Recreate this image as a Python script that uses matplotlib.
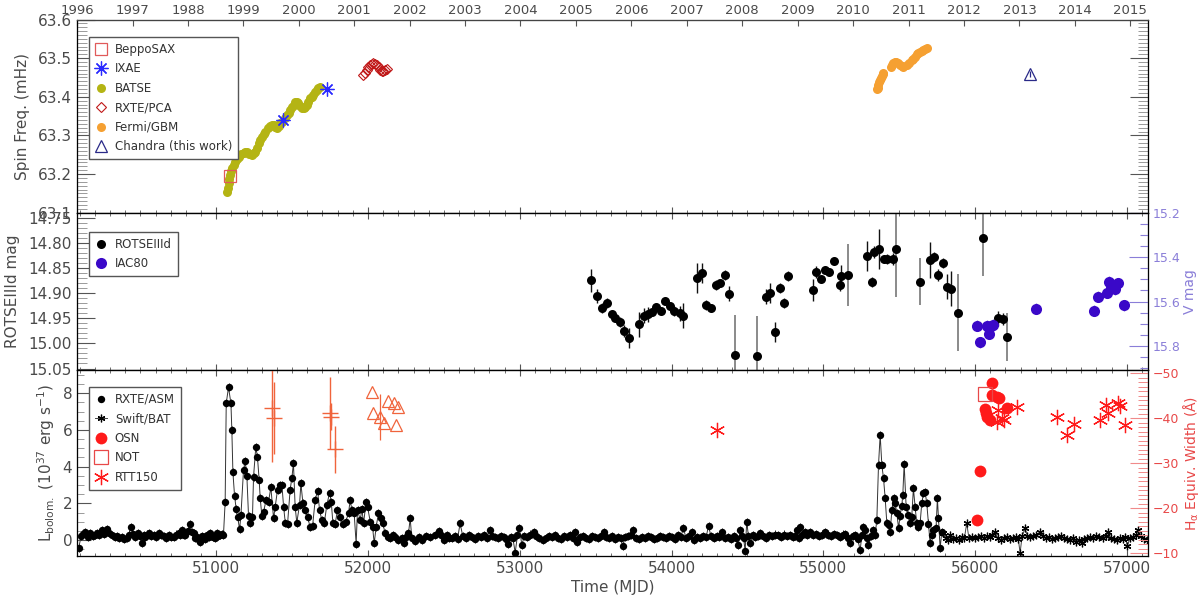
import numpy as np
import matplotlib
matplotlib.use('Agg')
import matplotlib.pyplot as plt
from matplotlib.ticker import MultipleLocator, FormatStrFormatter

plt.rcParams['font.family'] = ['DejaVu Sans']
plt.rcParams['mathtext.default'] = 'regular'

# ---------------- data ----------------
# x range (MJD) and top year axis
x_range = (50083, 57140)
year_mjd = [50083, 50449, 50814, 51179, 51544, 51910, 52275, 52640, 53005, 53371,
            53736, 54101, 54466, 54832, 55197, 55562, 55927, 56293, 56658, 57023]
year_lbl = ['1996', '1997', '1988', '1999', '2000', '2001', '2002', '2003', '2004', '2005',
            '2006', '2007', '2008', '2009', '2010', '2011', '2012', '2013', '2014', '2015']

# spin frequency (mHz)
batse_t = [51070, 51076, 51081, 51087, 51092, 51098, 51103, 51114, 51125, 51136, 51147, 51163,
           51180, 51191, 51202, 51218, 51235, 51246, 51257, 51268, 51279, 51290, 51301, 51312,
           51323, 51340, 51356, 51367, 51378, 51389, 51400, 51411, 51422, 51433, 51455, 51466,
           51477, 51488, 51499, 51510, 51520, 51531, 51542, 51553, 51565, 51576, 51587, 51598,
           51608, 51619, 51630, 51641, 51652, 51663, 51672, 51681]
batse_f = [63.154, 63.165, 63.176, 63.187, 63.198, 63.207, 63.215, 63.224, 63.232, 63.239, 63.245, 63.251,
           63.255, 63.257, 63.258, 63.253, 63.249, 63.254, 63.258, 63.268, 63.280, 63.289, 63.297, 63.304,
           63.310, 63.318, 63.324, 63.326, 63.327, 63.323, 63.318, 63.325, 63.331, 63.336, 63.345, 63.352,
           63.359, 63.366, 63.373, 63.380, 63.387, 63.386, 63.383, 63.377, 63.370, 63.372, 63.374, 63.380,
           63.387, 63.396, 63.400, 63.405, 63.412, 63.418, 63.422, 63.426]
sax_t = [51092]
sax_f = [63.195]
ixae_t = [51443, 51729]
ixae_f = [63.340, 63.420]
pca_t = [51970, 51981, 51992, 52003, 52015, 52025, 52036, 52047, 52059, 52070, 52080, 52091,
         52102, 52113, 52125]
pca_f = [63.456, 63.462, 63.469, 63.476, 63.482, 63.486, 63.488, 63.486, 63.482, 63.476, 63.469, 63.467,
         63.468, 63.470, 63.471]
gbm_t = [55353, 55358, 55363, 55368, 55374, 55380, 55385, 55391, 55396, 55445, 55453, 55462, 55471,
         55480, 55493, 55506, 55517, 55528, 55550, 55566, 55583, 55594, 55605, 55616, 55627, 55638,
         55649, 55660, 55671, 55682]
gbm_f = [63.419, 63.424, 63.430, 63.437, 63.443, 63.449, 63.454, 63.458, 63.461, 63.478, 63.483, 63.488, 63.490,
         63.491, 63.487, 63.482, 63.480, 63.478, 63.482, 63.488, 63.495, 63.499, 63.504, 63.510, 63.514, 63.517,
         63.519, 63.521, 63.523, 63.525]
chandra_t = [56363]
chandra_f = [63.459]
chandra_err = [0.008]

# optical magnitudes
rotse_t = [53468, 53508, 53541, 53574, 53607, 53629, 53662, 53684, 53717, 53789, 53816, 53842,
           53871, 53900, 53931, 53959, 53988, 54019, 54053, 54076, 54171, 54200, 54226, 54261,
           54292, 54321, 54354, 54382, 54420, 54563, 54625, 54651, 54679, 54712, 54743, 54767,
           54931, 54953, 54984, 55012, 55041, 55074, 55107, 55116, 55162, 55291, 55318, 55335,
           55370, 55401, 55423, 55459, 55480, 55638, 55704, 55730, 55759, 55792, 55818, 55840,
           55890, 56051, 56154, 56183, 56209]
rotse_m = [14.874, 14.905, 14.929, 14.919, 14.942, 14.949, 14.957, 14.976, 14.989, 14.962, 14.945, 14.942,
           14.937, 14.928, 14.936, 14.915, 14.926, 14.935, 14.940, 14.945, 14.870, 14.859, 14.924, 14.929,
           14.884, 14.879, 14.864, 14.901, 15.023, 15.025, 14.907, 14.899, 14.977, 14.889, 14.919, 14.866,
           14.894, 14.858, 14.872, 14.853, 14.858, 14.836, 14.883, 14.866, 14.864, 14.826, 14.877, 14.818,
           14.812, 14.831, 14.831, 14.831, 14.812, 14.877, 14.834, 14.828, 14.864, 14.840, 14.887, 14.891,
           14.939, 14.789, 14.950, 14.952, 14.987]
rotse_e = [0.023, 0.014, 0.010, 0.010, 0.006, 0.006, 0.010, 0.012, 0.020, 0.025, 0.015, 0.015,
           0.008, 0.008, 0.006, 0.006, 0.008, 0.010, 0.015, 0.025, 0.030, 0.020, 0.010, 0.008,
           0.010, 0.008, 0.010, 0.015, 0.080, 0.080, 0.015, 0.020, 0.020, 0.010, 0.010, 0.010,
           0.022, 0.012, 0.006, 0.006, 0.006, 0.006, 0.012, 0.022, 0.062, 0.030, 0.010, 0.012,
           0.040, 0.006, 0.010, 0.012, 0.095, 0.047, 0.036, 0.010, 0.012, 0.010, 0.025, 0.035,
           0.077, 0.077, 0.015, 0.012, 0.048]
iac_t = [56016, 56034, 56082, 56089, 56104, 56118, 56403, 56785, 56813, 56869, 56886, 56897, 56923, 56945, 56982]
iac_v = [15.710, 15.785, 15.710, 15.746, 15.713, 15.705, 15.632, 15.641, 15.578, 15.560, 15.510, 15.540,
         15.544, 15.517, 15.616]
iac_e = [0.025] * len(iac_t)

# RXTE/ASM bolometric luminosity (1e37 erg/s)
asm_t = [50093, 50110, 50125, 50137, 50152, 50170, 50185, 50200, 50214, 50230, 50247, 50263, 50280, 50296,
         50313, 50330, 50346, 50362, 50379, 50395, 50412, 50425, 50440, 50453, 50466, 50482, 50497, 50510,
         50522, 50532, 50545, 50554, 50570, 50587, 50603, 50620, 50636, 50653, 50670, 50686, 50703, 50719,
         50735, 50752, 50763, 50774, 50785, 50796, 50812, 50829, 50840, 50851, 50862, 50873, 50884, 50895,
         50906, 50917, 50928, 50939, 50950, 50960, 50971, 50982, 50993, 51004, 51015, 51026, 51037, 51048,
         51059, 51066, 51081, 51097, 51103, 51110, 51121, 51132, 51141, 51154, 51163, 51180, 51191, 51202,
         51213, 51224, 51239, 51246, 51261, 51272, 51283, 51290, 51301, 51312, 51329, 51345, 51360, 51378,
         51389, 51404, 51422, 51433, 51444, 51455, 51470, 51487, 51498, 51509, 51520, 51531, 51549, 51558,
         51571, 51586, 51602, 51619, 51635, 51652, 51668, 51681, 51696, 51712, 51729, 51747, 51758, 51769,
         51784, 51799, 51817, 51834, 51854, 51872, 51883, 51894, 51909, 51922, 51931, 51949, 51960, 51971,
         51988, 51997, 52015, 52030, 52041, 52054, 52069, 52085, 52098, 52113, 52129, 52146, 52164, 52179,
         52201, 52223, 52239, 52252, 52267, 52278, 52289, 52311, 52333, 52355, 52383, 52410, 52443, 52471,
         52480, 52498, 52520, 52537, 52555, 52575, 52590, 52607, 52625, 52645, 52665, 52685, 52705, 52725,
         52745, 52765, 52785, 52801, 52818, 52835, 52855, 52875, 52895, 52910, 52921, 52940, 52955, 52970,
         52985, 52998, 53014, 53030, 53050, 53070, 53091, 53110, 53130, 53150, 53170, 53190, 53210, 53230,
         53250, 53270, 53290, 53310, 53330, 53350, 53365, 53376, 53395, 53415, 53435, 53455, 53475, 53495,
         53515, 53535, 53552, 53570, 53590, 53610, 53630, 53650, 53665, 53679, 53695, 53715, 53732, 53749,
         53765, 53785, 53805, 53825, 53845, 53865, 53885, 53905, 53925, 53945, 53965, 53985, 54005, 54025,
         54045, 54062, 54079, 54095, 54115, 54134, 54150, 54170, 54190, 54210, 54228, 54244, 54260, 54280,
         54300, 54315, 54331, 54350, 54370, 54390, 54410, 54425, 54441, 54452, 54465, 54475, 54485, 54496,
         54507, 54518, 54535, 54550, 54567, 54584, 54600, 54620, 54640, 54660, 54680, 54700, 54720, 54740,
         54760, 54780, 54800, 54815, 54826, 54837, 54848, 54862, 54878, 54895, 54913, 54930, 54950, 54970,
         54990, 55012, 55030, 55050, 55070, 55090, 55110, 55128, 55144, 55160, 55177, 55193, 55210, 55227,
         55243, 55255, 55265, 55276, 55287, 55298, 55315, 55331, 55342, 55353, 55364, 55375, 55386, 55397,
         55408, 55419, 55430, 55441, 55452, 55463, 55474, 55485, 55496, 55506, 55517, 55524, 55533, 55546,
         55561, 55572, 55583, 55594, 55605, 55616, 55627, 55638, 55649, 55660, 55671, 55682, 55693, 55704,
         55715, 55726, 55743, 55752, 55759, 55770, 55781]
asm_l = [-0.45, 0.20, 0.35, 0.45, 0.15, 0.36, 0.20, 0.30, 0.40, 0.25, 0.55, 0.35, 0.58, 0.40,
         0.27, 0.15, 0.22, 0.10, 0.18, 0.05, 0.09, 0.30, 0.73, 0.35, 0.18, 0.40, 0.20, -0.15,
         0.25, 0.18, 0.30, 0.36, 0.20, 0.27, 0.15, 0.36, 0.25, 0.22, 0.10, 0.27, 0.15, 0.18,
         0.30, 0.36, 0.25, 0.55, 0.30, 0.27, 0.50, 0.87, 0.45, 0.36, 0.10, 0.18, 0.00, -0.09,
         0.20, 0.18, 0.05, 0.27, 0.15, 0.36, 0.20, 0.18, 0.10, 0.40, 0.20, 0.27, 0.33, 0.30,
         2.09, 7.45, 8.33, 7.45, 6.00, 3.69, 2.40, 1.67, 1.27, 0.58, 1.36, 3.82, 4.33, 3.49,
         1.31, 0.95, 1.27, 3.45, 5.09, 4.51, 3.27, 2.27, 1.31, 1.55, 2.18, 2.09, 2.87, 1.18,
         1.82, 2.73, 3.00, 3.00, 1.82, 0.95, 0.87, 2.73, 3.36, 4.18, 1.82, 0.95, 1.91, 3.09,
         2.04, 1.64, 1.27, 0.69, 0.76, 2.18, 2.69, 1.64, 1.09, 0.91, 1.91, 2.58, 2.09, 0.91,
         0.87, 1.64, 1.27, 0.87, 1.00, 1.49, 2.18, 1.64, 1.45, -0.20, 1.64, 1.09, 1.67, 0.91,
         2.09, 1.82, 1.00, 0.73, -0.18, 0.73, 1.45, 1.18, 0.91, 0.36, 0.18, 0.09, 0.27, 0.18,
         0.00, 0.09, -0.18, 0.18, 0.36, 1.18, 0.09, -0.04, 0.18, 0.00, 0.24, 0.18, 0.27, 0.51,
         0.27, 0.00, 0.27, 0.09, 0.10, 0.20, 0.05, 0.91, 0.20, 0.10, 0.25, 0.15, 0.05, 0.20,
         0.15, 0.25, 0.10, 0.55, 0.20, 0.15, 0.10, 0.20, 0.15, 0.05, -0.22, 0.15, 0.10, -0.69,
         0.25, 0.64, -0.27, 0.20, 0.15, 0.30, 0.45, 0.20, 0.10, 0.00, 0.10, 0.20, 0.15, 0.25,
         0.10, 0.05, 0.20, 0.15, 0.25, 0.10, 0.45, -0.09, 0.15, 0.20, 0.10, 0.05, 0.20, 0.15,
         0.10, 0.20, 0.45, 0.15, 0.10, 0.20, 0.05, 0.15, 0.10, -0.33, 0.15, 0.20, 0.30, 0.55,
         0.10, 0.05, 0.15, 0.10, 0.20, 0.15, 0.05, 0.10, 0.20, 0.15, 0.10, 0.20, 0.15, 0.05,
         0.25, 0.15, 0.67, 0.10, 0.20, 0.45, 0.00, 0.15, 0.10, 0.20, 0.15, 0.78, 0.20, 0.10,
         0.20, 0.15, 0.45, 0.10, 0.15, 0.05, 0.20, 0.10, -0.27, 0.55, 0.20, 0.10, -0.58, 1.00,
         0.20, -0.18, 0.25, 0.15, 0.20, 0.36, 0.20, 0.10, 0.25, 0.20, 0.30, 0.25, 0.15, 0.30,
         0.20, 0.25, 0.15, 0.20, 0.55, 0.10, 0.73, 0.30, 0.45, 0.30, 0.45, 0.25, 0.35, 0.20,
         0.30, 0.45, 0.30, 0.20, 0.35, 0.25, 0.15, 0.30, 0.33, 0.10, -0.18, 0.20, 0.27, 0.05,
         -0.55, 0.30, 0.73, 0.55, 0.10, -0.27, 0.20, 0.55, 0.30, 1.09, 4.09, 5.73, 4.09, 3.36,
         2.27, 0.91, 0.82, 0.45, 1.64, 2.27, 2.00, 1.45, 0.64, 1.31, 1.85, 2.45, 4.15, 1.82,
         1.36, 0.91, 1.27, 2.82, 1.82, 0.91, 0.73, 0.91, 2.00, 2.55, 2.64, 2.00, 0.90, -0.18,
         0.30, 0.55, 0.64, 2.27, 1.18, -0.45, 0.45]

# Swift/BAT
bat_t = [55792, 55810, 55825, 55836, 55855, 55875, 55895, 55915, 55930, 55945, 55960, 55980, 56000,
         56020, 56040, 56060, 56080, 56100, 56115, 56132, 56150, 56170, 56190, 56210, 56230, 56250,
         56270, 56285, 56297, 56310, 56330, 56345, 56365, 56385, 56405, 56429, 56445, 56465, 56485,
         56505, 56525, 56545, 56565, 56585, 56605, 56625, 56645, 56665, 56685, 56703, 56720, 56740,
         56760, 56780, 56800, 56820, 56840, 56860, 56879, 56895, 56915, 56935, 56955, 56975, 56990,
         57004, 57020, 57040, 57060, 57077, 57095, 57115, 57131]
bat_l = [0.36, 0.10, 0.00, 0.27, 0.05, 0.10, 0.00, 0.15, 0.10, 0.91, 0.10, 0.15, 0.10,
         0.15, 0.20, 0.10, 0.20, 0.15, 0.25, 0.45, 0.10, 0.00, 0.10, 0.15, 0.05, 0.10,
         0.15, 0.05, -0.69, 0.20, 0.64, 0.20, 0.15, 0.20, 0.25, 0.45, 0.20, 0.10, 0.15,
         0.05, 0.10, 0.15, 0.20, 0.10, 0.05, 0.00, 0.10, -0.10, 0.00, -0.15, 0.05, 0.10,
         0.15, 0.10, 0.20, 0.15, 0.10, 0.20, 0.45, 0.10, 0.05, 0.00, 0.10, 0.05, 0.15,
         -0.33, 0.10, 0.15, 0.25, 0.55, 0.20, 0.05, 0.00]

# H-alpha equivalent width (Angstrom)
osn_t = [56011, 56033, 56066, 56073, 56081, 56099, 56110, 56110, 56143, 56160, 56209]
osn_ew = [-17.4, -28.4, -42.0, -41.1, -40.3, -39.7, -47.9, -45.2, -44.8, -44.6, -42.3]
not_t = [56066]
not_ew = [-45.5]
rtt_t = [54299, 56143, 56154, 56176, 56191, 56275, 56542, 56608, 56652, 56823, 56861, 56878,
         56945, 56956, 56989]
rtt_ew = [-37.4, -39.2, -41.8, -40.0, -39.7, -42.6, -40.2, -36.2, -38.7, -39.7, -42.9, -41.2,
          -43.3, -42.7, -38.5]
lit_plus_t = [51370, 51378, 51747, 51758, 51784]
lit_plus_ew = [-42.4, -40.1, -41.1, -40.3, -33.1]
lit_plus_err = [12.0, 8.0, 8.0, 3.0, 5.2]
lit_tri_t = [52029, 52036, 52080, 52104, 52130, 52171, 52186, 52200]
lit_tri_ew = [-45.9, -41.1, -40.3, -39.0, -43.9, -43.5, -38.5, -42.6]
lit_tri_err = [0, 0, 5.1, 0, 0, 0, 0, 0]

# ---------------- styling ----------------
TXT = '#4a4a4a'
TICK = '#555555'
MINOR = '#9a9a9a'
C_BATSE = '#b4b414'
C_GBM = '#f5a032'
C_PCA = '#c01818'
C_SAX = '#e05a5a'
C_IXAE = '#2a2aff'
C_CHANDRA = '#2a2a88'
C_IAC = '#3a08c8'
C_VMAG = '#8a7ed8'
C_HA = '#e84848'
C_HA_TICK = '#f08a8a'
C_OSN = '#ff1a1a'
C_LIT = '#f0643c'

fig = plt.figure(figsize=(12, 6.04), dpi=100)
x0, w = 0.0642, 0.8925
ax1 = fig.add_axes([x0, 0.6478, w, 0.3199])
ax2 = fig.add_axes([x0, 0.3874, w, 0.2604])
ax3 = fig.add_axes([x0, 0.0795, w, 0.3079])

for ax in (ax1, ax2, ax3):
    ax.set_xlim(*x_range)
    ax.xaxis.set_major_locator(MultipleLocator(1000))
    ax.xaxis.set_minor_locator(MultipleLocator(100))
    ax.tick_params(axis='x', which='major', direction='in', length=4, width=0.8,
                   color=TICK, top=True, bottom=True, labelsize=11, labelcolor=TXT)
    ax.tick_params(axis='x', which='minor', direction='in', length=2.2, width=0.6,
                   color=TICK, top=True, bottom=True)
    for s in ax.spines.values():
        s.set_color('#444444')
        s.set_linewidth(0.9)
ax1.tick_params(axis='x', labelbottom=False, top=False)
ax2.tick_params(axis='x', labelbottom=False)

legend_kw = dict(fontsize=8.5, frameon=True, fancybox=False, framealpha=1, edgecolor='#555555',
                 labelcolor='#333333', handlelength=1.0, handletextpad=0.7, borderpad=0.5,
                 labelspacing=0.55, borderaxespad=0)

# ---------------- top panel: spin frequency ----------------
h_batse, = ax1.plot(batse_t, batse_f, 'o', color=C_BATSE, ms=6.5, mec='none', label='BATSE')
h_sax, = ax1.plot(sax_t, sax_f, 's', mfc='none', mec=C_SAX, ms=8, mew=0.9, label='BeppoSAX')
h_ixae, = ax1.plot(ixae_t, ixae_f, ls='none', marker=(8, 2, 0), color=C_IXAE, ms=10, mew=0.9,
                   label='IXAE')
h_pca, = ax1.plot(pca_t, pca_f, 'D', mfc='none', mec=C_PCA, ms=5, mew=0.8, label='RXTE/PCA')
h_gbm, = ax1.plot(gbm_t, gbm_f, 'o', color=C_GBM, ms=6.5, mec='none', label='Fermi/GBM')
ax1.errorbar(chandra_t, chandra_f, yerr=chandra_err, fmt='none', ecolor=C_CHANDRA, elinewidth=0.9)
h_ch, = ax1.plot(chandra_t, chandra_f, '^', mfc='none', mec=C_CHANDRA, ms=9, mew=0.9,
                 label='Chandra (this work)')

ax1.set_ylim(63.1, 63.6)
ax1.yaxis.set_major_locator(MultipleLocator(0.1))
ax1.yaxis.set_minor_locator(MultipleLocator(0.01))
ax1.yaxis.set_major_formatter(FormatStrFormatter('%.1f'))
ax1.tick_params(axis='y', which='major', direction='in', length=13, width=0.8, color=TICK,
                left=True, right=True, labelsize=11, labelcolor=TXT)
ax1.tick_params(axis='y', which='minor', direction='in', length=7, width=0.7, color=MINOR,
                left=True, right=True)
ax1.set_ylabel('Spin Freq. (mHz)', fontsize=11, color=TXT, labelpad=6)
ax1.legend(handles=[h_sax, h_ixae, h_batse, h_pca, h_gbm, h_ch], loc='upper left',
           bbox_to_anchor=(0.011, 0.91), **legend_kw)

ax1t = ax1.twiny()
ax1t.set_xlim(*x_range)
ax1t.set_xticks(year_mjd)
ax1t.set_xticklabels(year_lbl)
ax1t.tick_params(axis='x', direction='in', length=4, width=0.8, color=TICK,
                 labelsize=9.5, labelcolor=TXT, pad=2)
ax1t.spines['top'].set_color('#444444')

# ---------------- middle panel: optical magnitudes ----------------
rotse_e = np.array(rotse_e)
small = rotse_e < 0.045
rt = np.array(rotse_t)
rm = np.array(rotse_m)
ax2.errorbar(rt[small], rm[small], yerr=rotse_e[small], fmt='none', ecolor='#111111', elinewidth=1.0)
ax2.errorbar(rt[~small], rm[~small], yerr=rotse_e[~small], fmt='none', ecolor='#8a8a8a', elinewidth=1.4)
h_rotse, = ax2.plot(rotse_t, rotse_m, 'o', color='black', ms=6.5, mec='none', label='ROTSEIIId')
ax2.set_ylim(15.053, 14.739)
ax2.yaxis.set_major_locator(MultipleLocator(0.05))
ax2.yaxis.set_minor_locator(MultipleLocator(0.01))
ax2.yaxis.set_major_formatter(FormatStrFormatter('%.2f'))
ax2.tick_params(axis='y', which='major', direction='in', length=13, width=0.8, color=TICK,
                right=False, labelsize=11, labelcolor=TXT)
ax2.tick_params(axis='y', which='minor', direction='in', length=7, width=0.7, color=MINOR, right=False)
ax2.set_ylabel('ROTSEIIId mag', fontsize=11, color=TXT, labelpad=6)

ax2r = ax2.twinx()
ax2r.errorbar(iac_t, iac_v, yerr=iac_e, fmt='none', ecolor=C_VMAG, elinewidth=1.0)
h_iac, = ax2r.plot(iac_t, iac_v, 'o', color=C_IAC, ms=8, mec='none', label='IAC80')
ax2r.set_ylim(15.91, 15.198)
ax2r.yaxis.set_major_locator(MultipleLocator(0.2))
ax2r.yaxis.set_minor_locator(MultipleLocator(0.05))
ax2r.yaxis.set_major_formatter(FormatStrFormatter('%.1f'))
ax2r.tick_params(axis='y', which='major', direction='in', length=14, width=0.8, color=C_VMAG,
                 labelsize=9, labelcolor=C_VMAG, pad=3)
ax2r.tick_params(axis='y', which='minor', direction='in', length=6, width=0.8, color=C_VMAG)
ax2r.set_ylabel('V mag', fontsize=10, color=C_VMAG, labelpad=2)
ax2r.legend(handles=[h_rotse, h_iac], loc='upper left', bbox_to_anchor=(0.011, 0.877), **legend_kw)

# ---------------- bottom panel: luminosity and H-alpha ----------------
ax3.plot(asm_t, asm_l, '-', color='#333333', lw=0.7)
ax3.errorbar(asm_t, asm_l, yerr=0.22, fmt='none', ecolor='#222222', elinewidth=0.7)
h_asm, = ax3.plot(asm_t, asm_l, 'o', color='black', ms=5.3, mec='none', label='RXTE/ASM')
h_bat, = ax3.plot(bat_t, bat_l, '-', color='#444444', lw=0.7, marker=(6, 2, 0), ms=5.5,
                  mec='black', mew=0.9, label='Swift/BAT')
ax3.set_ylim(-0.87, 9.27)
ax3.yaxis.set_major_locator(MultipleLocator(2))
ax3.yaxis.set_minor_locator(MultipleLocator(0.5))
ax3.tick_params(axis='y', which='major', direction='in', length=10, width=0.8, color=TICK,
                right=False, labelsize=11, labelcolor=TXT)
ax3.tick_params(axis='y', which='minor', direction='in', length=5, width=0.7, color=MINOR, right=False)
ax3.set_ylabel(r'L$_{bolom.}$ (10$^{37}$ erg s$^{-1}$)', fontsize=11, color=TXT, labelpad=4)
ax3.set_xlabel('Time (MJD)', fontsize=11, color=TXT, labelpad=3)

ax3r = ax3.twinx()
ax3r.errorbar(lit_plus_t, lit_plus_ew, yerr=lit_plus_err, fmt='+', color=C_LIT, ms=11,
              mew=1.0, elinewidth=1.0)
ax3r.errorbar(lit_tri_t, lit_tri_ew, yerr=lit_tri_err, fmt='none', ecolor=C_LIT, elinewidth=0.9)
ax3r.plot(lit_tri_t, lit_tri_ew, '^', mfc='none', mec=C_LIT, ms=9, mew=0.9)
h_osn, = ax3r.plot(osn_t, osn_ew, 'o', color=C_OSN, ms=8.5, mec='none', label='OSN')
h_not, = ax3r.plot(not_t, not_ew, 's', mfc='none', mec=C_HA, ms=10, mew=0.9, label='NOT')
h_rtt, = ax3r.plot(rtt_t, rtt_ew, ls='none', marker=(6, 2, 0), color=C_OSN, ms=11, mew=0.9,
                   label='RTT150')
ax3r.set_ylim(-9.4, -50.74)
ax3r.yaxis.set_major_locator(MultipleLocator(10))
ax3r.yaxis.set_minor_locator(MultipleLocator(1))
ax3r.tick_params(axis='y', which='major', direction='in', length=13, width=0.8, color=C_HA_TICK,
                 labelsize=9, labelcolor=C_HA, pad=3)
ax3r.tick_params(axis='y', which='minor', direction='in', length=7, width=0.7, color=C_HA_TICK)
ax3r.set_ylabel(r'H$_\alpha$ Equiv. Width (Å)', fontsize=10, color=C_HA, labelpad=2)
ax3r.legend(handles=[h_asm, h_bat, h_osn, h_not, h_rtt], loc='upper left',
            bbox_to_anchor=(0.011, 0.909), **legend_kw)

fig.savefig('out.png', dpi=100)
